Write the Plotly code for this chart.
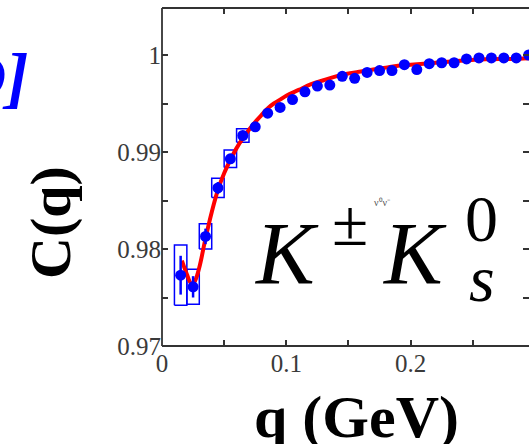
import plotly.graph_objects as go

# ---------------- data ----------------
q_vals = [0.015, 0.025, 0.035, 0.045, 0.055, 0.065, 0.075, 0.085, 0.095, 0.105,
          0.115, 0.125, 0.135, 0.145, 0.155, 0.165, 0.175, 0.185, 0.195, 0.205,
          0.215, 0.225, 0.235, 0.245, 0.255, 0.265, 0.275, 0.285, 0.295]
c_vals = [0.9773, 0.9761, 0.9813, 0.9863, 0.9893, 0.9917, 0.9926, 0.9940, 0.9946, 0.9954,
          0.9962, 0.9968, 0.9969, 0.9978, 0.9976, 0.9982, 0.9984, 0.9984, 0.9990, 0.9985,
          0.9991, 0.9992, 0.9992, 0.9996, 0.9997, 0.9997, 0.9997, 0.9997, 1.0000]
stat_err = [0.0020, 0.0011, 0.0008, 0.0006, 0.0005, 0.0004, 0.0004, 0.0003, 0.0003, 0.0003,
            0.0003, 0.0003, 0.0003, 0.0003, 0.0003, 0.0003, 0.0003, 0.0003, 0.0003, 0.0003,
            0.0003, 0.0003, 0.0003, 0.0003, 0.0003, 0.0003, 0.0003, 0.0003, 0.0003]
# systematic boxes for the first points
sys_err = [0.0031, 0.0018, 0.0013, 0.0010, 0.0009, 0.0007]
sys_halfwidth = 0.005

fit_q = [0.016, 0.020, 0.0235, 0.026, 0.030, 0.035, 0.040, 0.045, 0.050, 0.055,
         0.060, 0.065, 0.070, 0.075, 0.080, 0.085, 0.090, 0.095, 0.100, 0.110,
         0.120, 0.130, 0.140, 0.150, 0.160, 0.170, 0.180, 0.190, 0.200, 0.220,
         0.240, 0.260, 0.280, 0.300]
fit_c = [0.9788, 0.9774, 0.97645, 0.9766, 0.9781, 0.9811, 0.9838, 0.9861, 0.9878, 0.9892,
         0.9904, 0.9914, 0.9923, 0.9931, 0.9938, 0.9945, 0.9950, 0.9954, 0.9958, 0.9964,
         0.9970, 0.9974, 0.9978, 0.9981, 0.9983, 0.9985, 0.9987, 0.9989, 0.9990, 0.9992,
         0.9994, 0.99955, 0.9996, 0.9997]

x_tickvals = [0, 0.05, 0.1, 0.15, 0.2, 0.25]
x_ticktext = ['0', '', '0.1', '', '0.2', '']
y_tickvals = [0.97, 0.975, 0.98, 0.985, 0.99, 0.995, 1.0]
y_ticktext = ['0.97', '', '0.98', '', '0.99', '', '1']

# ---------------- layout geometry ----------------
W, H = 529, 444
L, R, T, B = 162, 0, 8, 98
PW, PH = W - L - R, H - T - B


def px2x(px):
    return (px - L) / PW


def py2y(py):
    return (H - B - py) / PH


SERIF = "Liberation Serif, Times New Roman, serif"
AXC = "#333333"
BLUE = "#0000ff"

fig = go.Figure()

# systematic boxes
bx, by = [], []
for q, c, s in zip(q_vals, c_vals, sys_err):
    bx += [q - sys_halfwidth, q + sys_halfwidth, q + sys_halfwidth, q - sys_halfwidth, q - sys_halfwidth, None]
    by += [c - s, c - s, c + s, c + s, c - s, None]
fig.add_trace(go.Scatter(x=bx, y=by, mode='lines', line=dict(color=BLUE, width=1.5),
                         hoverinfo='skip', showlegend=False))

# fit curve
fig.add_trace(go.Scatter(x=fit_q, y=fit_c, mode='lines',
                         line=dict(color='#ff0000', width=4, shape='spline'),
                         showlegend=False))

# data points
fig.add_trace(go.Scatter(x=q_vals, y=c_vals, mode='markers',
                         marker=dict(color=BLUE, size=11, symbol='circle'),
                         error_y=dict(type='data', array=stat_err, color=BLUE, thickness=2.5, width=0),
                         showlegend=False))

axis_common = dict(showgrid=False, zeroline=False, showline=False, ticks='inside',
                   ticklen=6, tickwidth=1.5, tickcolor=AXC, mirror='ticks',
                   tickfont=dict(family=SERIF, size=25, color='#3a3a3a'))

fig.update_xaxes(range=[0, PW / 1243.0], tickmode='array', tickvals=x_tickvals,
                 ticktext=x_ticktext, **axis_common)
fig.update_yaxes(range=[0.97, 0.97 + PH / 9700.0], tickmode='array', tickvals=y_tickvals,
                 ticktext=y_ticktext, **axis_common)

# axis frame lines (left, bottom, top)
for (x0, y0, x1, y1) in [(0, 0, 0, 1), (0, 0, 1, 0), (0, 1, 1, 1)]:
    fig.add_shape(type='line', xref='paper', yref='paper', x0=x0, y0=y0, x1=x1, y1=y1,
                  line=dict(color=AXC, width=1.8))

annotations = [
    dict(text='<b>q (GeV)</b>', x=px2x(356), y=py2y(417), font=dict(family=SERIF, size=60, color='black')),
    dict(text='<b>C(q)</b>', x=px2x(50), y=py2y(223), textangle=-90,
         font=dict(family=SERIF, size=58, color='black')),
    dict(text='<i>K</i>', x=px2x(286), y=py2y(254), font=dict(family=SERIF, size=88, color='black')),
    dict(text='±', x=px2x(350), y=py2y(222), font=dict(family=SERIF, size=66, color='black')),
    dict(text='<i>K</i>', x=px2x(414), y=py2y(254), font=dict(family=SERIF, size=88, color='black')),
    dict(text='0', x=px2x(481), y=py2y(218), font=dict(family=SERIF, size=66, color='black')),
    dict(text='<i>s</i>', x=px2x(482), y=py2y(278), font=dict(family=SERIF, size=66, color='black')),
    dict(text='ν⁰ν⁻', x=px2x(382), y=py2y(203), font=dict(family=SERIF, size=10, color='#555555')),
    dict(text='<b><i>D]</i></b>', x=px2x(31), y=py2y(77), xanchor='right',
         font=dict(family=SERIF, size=68, color=BLUE)),
]
for a in annotations:
    a.setdefault('xanchor', 'center')
    fig.add_annotation(xref='paper', yref='paper', showarrow=False, yanchor='middle', **a)

fig.update_layout(width=W, height=H, margin=dict(l=L, r=R, t=T, b=B, pad=0),
                  paper_bgcolor='white', plot_bgcolor='white')

fig.write_html("out.html", config={'displayModeBar': False},
               post_script="document.body.style.margin='0';document.body.style.overflow='hidden';")
